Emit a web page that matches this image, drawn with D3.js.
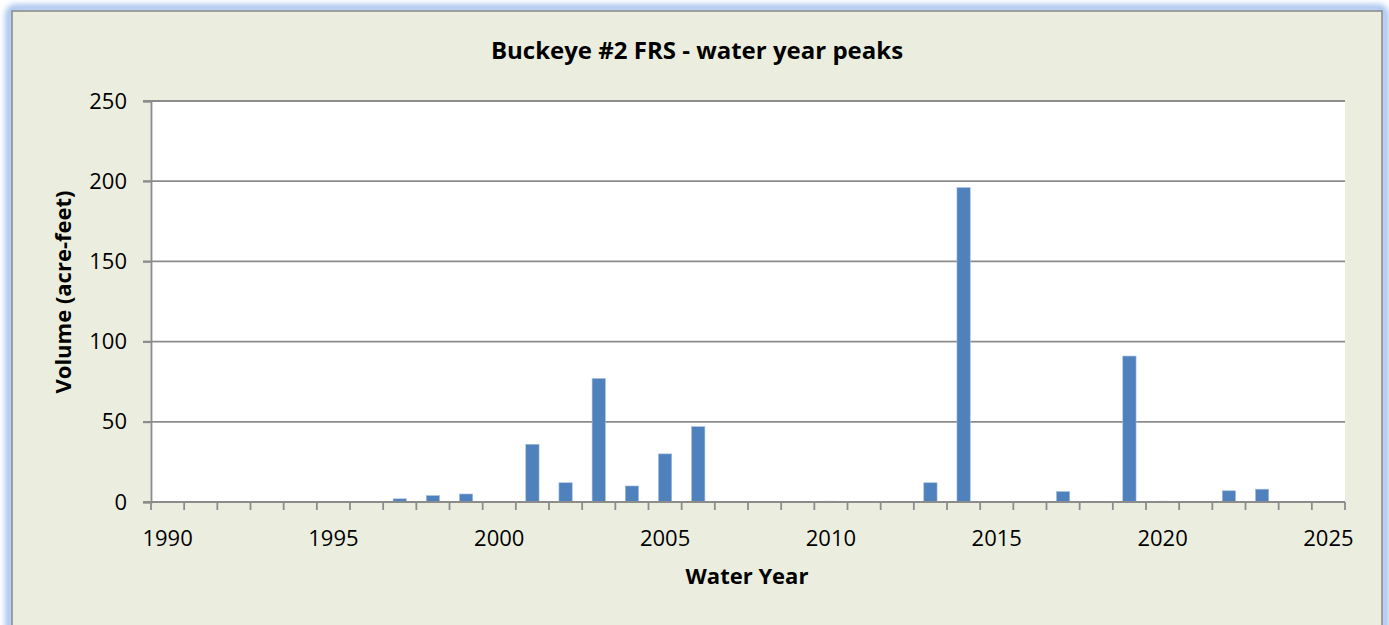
<!DOCTYPE html>
<html><head><meta charset="utf-8">
<script src="https://cdn.jsdelivr.net/npm/d3@7"></script>
<style>html,body{margin:0;padding:0;background:#fff;}</style>
</head><body>
<script>
const years = d3.range(1990, 2026);
const peakYears = [1997,1998,1999,2001,2002,2003,2004,2005,2006,2010,2013,2014,2017,2019,2020,2022,2023];
const peakValues = [2,4,5,36,12,77,10,30,47,0.5,12,196,6.5,91,0.5,7,8];
const yTicks = [0,50,100,150,200,250];
const xLabels = [1990,1995,2000,2005,2010,2015,2020,2025];
const title = "Buckeye #2 FRS - water year peaks";
const xTitle = "Water Year";
const yTitle = "Volume (acre-feet)";

const W = 1389, H = 625;
const svg = d3.select("body").append("svg").attr("width", W).attr("height", H);
const defs = svg.append("defs");
const f = defs.append("filter").attr("id","glow").attr("x","-5%").attr("y","-5%").attr("width","110%").attr("height","110%");
f.append("feGaussianBlur").attr("stdDeviation",3);

svg.append("rect").attr("x",9).attr("y",8).attr("width",1376).attr("height",640).attr("rx",6)
  .attr("fill","none").attr("stroke","#8fb3ea").attr("stroke-width",6).attr("filter","url(#glow)");
svg.append("rect").attr("x",12).attr("y",11).attr("width",1370).attr("height",640)
  .attr("fill","#EBEEDF").attr("stroke","#888").attr("stroke-width",1.5);

const m = {l:151, r:1345, t:101, b:502};
const xb = d3.scaleBand().domain(years).range([m.l, m.r]);
const y = d3.scaleLinear().domain([0,250]).range([m.b, m.t]);
const font = "'Open Sans', sans-serif";

svg.append("rect").attr("x",m.l).attr("y",m.t).attr("width",m.r-m.l).attr("height",m.b-m.t).attr("fill","#fff");

// grid
svg.append("g").selectAll("line").data(yTicks.filter(d=>d>0)).join("line")
  .attr("x1",m.l-8).attr("x2",m.r).attr("y1",d=>y(d)).attr("y2",d=>y(d))
  .attr("stroke","#8c8c8c").attr("stroke-width",1.8);

// bars
svg.append("g").selectAll("rect").data(peakYears.map((yr,i)=>({yr, v:peakValues[i]}))).join("rect")
  .attr("x",d=>xb(d.yr)+ (xb.bandwidth()-13.3)/2).attr("width",13.3)
  .attr("y",d=>y(d.v)).attr("height",d=>y(0)-y(d.v))
  .attr("fill","#4F81BD").attr("stroke","#a8c0e0").attr("stroke-width",0.6);

// y axis
const ya = svg.append("g").attr("transform",`translate(${m.l},0)`)
  .call(d3.axisLeft(y).tickValues(yTicks).tickSize(8).tickPadding(16));
ya.select(".domain").attr("stroke","#8c8c8c").attr("stroke-width",1.8);
ya.selectAll(".tick line").attr("stroke","#8c8c8c").attr("stroke-width",1.8);
ya.selectAll("text").attr("font-family",font).attr("font-size",22).attr("fill","#000");

// x axis
const xa = svg.append("g").attr("transform",`translate(0,${m.b})`);
xa.append("line").attr("x1",m.l-8).attr("x2",m.r).attr("y1",0).attr("y2",0).attr("stroke","#8c8c8c").attr("stroke-width",1.8);
const bounds = years.map(yr=>xb(yr)).concat([m.r]);
xa.selectAll("line.tk").data(bounds).join("line").attr("class","tk")
  .attr("x1",d=>d).attr("x2",d=>d).attr("y1",0).attr("y2",8).attr("stroke","#8c8c8c").attr("stroke-width",1.8);
xa.selectAll("text").data(xLabels).join("text")
  .attr("x",d=>xb(d)+xb.bandwidth()/2).attr("y",44).attr("text-anchor","middle")
  .attr("font-family",font).attr("font-size",22).attr("fill","#000").text(d=>d);

svg.append("text").attr("x",697).attr("y",59).attr("text-anchor","middle")
  .attr("font-family",font).attr("font-weight","bold").attr("font-size",24).text(title);
svg.append("text").attr("x",747).attr("y",584).attr("text-anchor","middle")
  .attr("font-family",font).attr("font-weight","bold").attr("font-size",22).text(xTitle);
svg.append("text").attr("transform","translate(71,292) rotate(-90)").attr("text-anchor","middle")
  .attr("font-family",font).attr("font-weight","bold").attr("font-size",22).text(yTitle);
</script>
</body></html>
